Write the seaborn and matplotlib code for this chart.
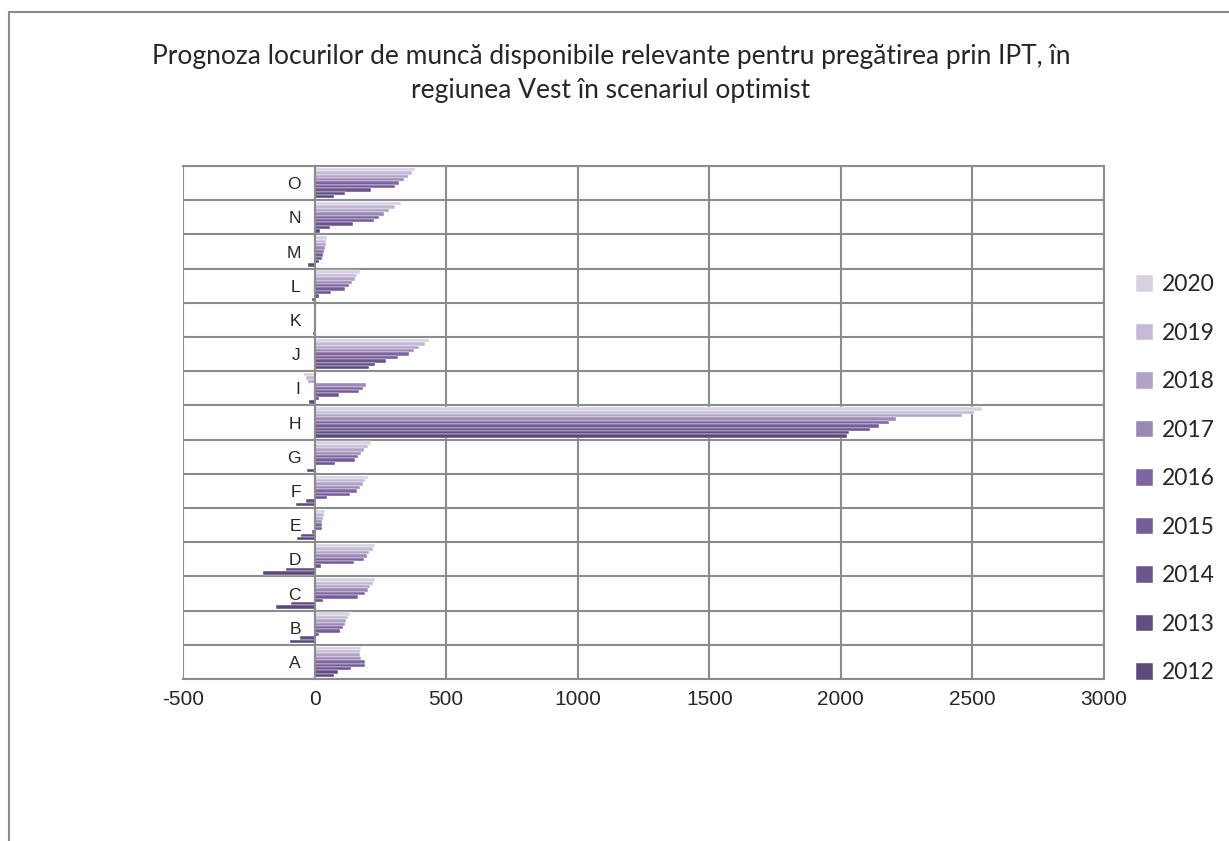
import numpy as np
import pandas as pd
import seaborn as sns
import matplotlib.pyplot as plt
from matplotlib.patches import Rectangle

# categorii (sectoare) si ani
categorii = ["A", "B", "C", "D", "E", "F", "G", "H", "I", "J", "K", "L", "M", "N", "O"]
ani = [2012, 2013, 2014, 2015, 2016, 2017, 2018, 2019, 2020]

# valori, cate o lista pe an (ordinea A..O)
v2012 = [73, -95, -148, -196, -68, -72, -28, 2023, -23, 206, -7, -9, -24, 19, 73]
v2013 = [88, -57, -91, -107, -53, -32, 5, 2031, 16, 231, -2, 16, 16, 58, 117]
v2014 = [139, 16, 33, 23, -9, 48, 77, 2110, 91, 272, 1, 63, 27, 145, 213]
v2015 = [193, 95, 164, 149, 29, 134, 153, 2145, 167, 317, 2, 117, 32, 227, 304]
v2016 = [193, 107, 191, 187, 29, 162, 164, 2183, 183, 357, 3, 130, 37, 244, 322]
v2017 = [176, 114, 202, 200, 29, 173, 177, 2210, 196, 376, 3, 143, 39, 263, 338]
v2018 = [173, 120, 212, 208, 32, 183, 189, 2462, -25, 398, 4, 153, 42, 284, 355]
v2019 = [174, 126, 221, 221, 35, 193, 202, 2505, -34, 418, 5, 162, 44, 307, 370]
v2020 = [177, 133, 231, 231, 39, 202, 215, 2538, -42, 436, 6, 172, 48, 330, 383]

culori = ["#5d4a7c", "#624d84", "#6b558f", "#755c99", "#8064a2",
          "#9a89b5", "#b0a3c6", "#c4bad6", "#d7d1e4"]

valori = [v2012, v2013, v2014, v2015, v2016, v2017, v2018, v2019, v2020]
df = pd.DataFrame({
    "categorie": np.tile(categorii, len(ani)),
    "an": np.repeat([str(a) for a in ani], len(categorii)),
    "valoare": np.concatenate(valori),
})

sns.set_style("white")
plt.rcParams["font.family"] = ["Liberation Sans", "DejaVu Sans"]
plt.rcParams["axes.unicode_minus"] = False

fig = plt.figure(figsize=(12.29, 8.41), dpi=100)
ax = fig.add_axes([183 / 1229, 1 - 679 / 841, (1104 - 183) / 1229, (679 - 166) / 841])

ani_inv = [str(a) for a in ani[::-1]]
paleta = dict(zip([str(a) for a in ani], culori))
sns.barplot(data=df, y="categorie", x="valoare", hue="an",
            order=categorii[::-1], hue_order=ani_inv, palette=paleta,
            orient="h", width=0.9, linewidth=0.3, edgecolor="white",
            saturation=1, ax=ax)

ax.set_xlim(-500, 3000)
ax.set_ylim(len(categorii) - 0.5, -0.5)
ax.set_xticks(np.arange(-500, 3001, 500))
ax.set_xlabel("")
ax.set_ylabel("")
ax.tick_params(axis="x", labelsize=15, length=0, pad=8)
ax.tick_params(axis="y", labelsize=12.5, length=0, pad=10)

# axa categoriilor pe linia zero
ax.spines["left"].set_position(("data", 0))
for s in ax.spines.values():
    s.set_color("#8c8c8c")
    s.set_linewidth(1.5)

for x in np.arange(-500, 3001, 500):
    ax.axvline(x, color="#8c8c8c", lw=1.5, zorder=0)
for y in np.arange(-0.5, len(categorii), 1):
    ax.axhline(y, color="#8c8c8c", lw=1.5, zorder=0)

fig.text(0.497, 0.913,
         "Prognoza locurilor de muncă disponibile relevante pentru pregătirea prin IPT, în\n"
         "regiunea Vest în scenariul optimist",
         ha="center", va="center", fontsize=19, family=["Lato", "DejaVu Sans"],
         linespacing=1.45)

leg = ax.legend(loc="center left", bbox_to_anchor=(1.012, 0.39), frameon=False,
                prop={"family": ["Lato", "DejaVu Sans"], "size": 16.5},
                labelspacing=1.2, handlelength=0.75, handleheight=0.75,
                handletextpad=0.4)

fig.patches.append(Rectangle((9 / 1229, -0.1), 1.2, 1 - 12 / 841 + 0.1,
                             transform=fig.transFigure, fill=False,
                             edgecolor="#8c8c8c", lw=1.5))

fig.savefig("out.png", dpi=100, facecolor="white")
